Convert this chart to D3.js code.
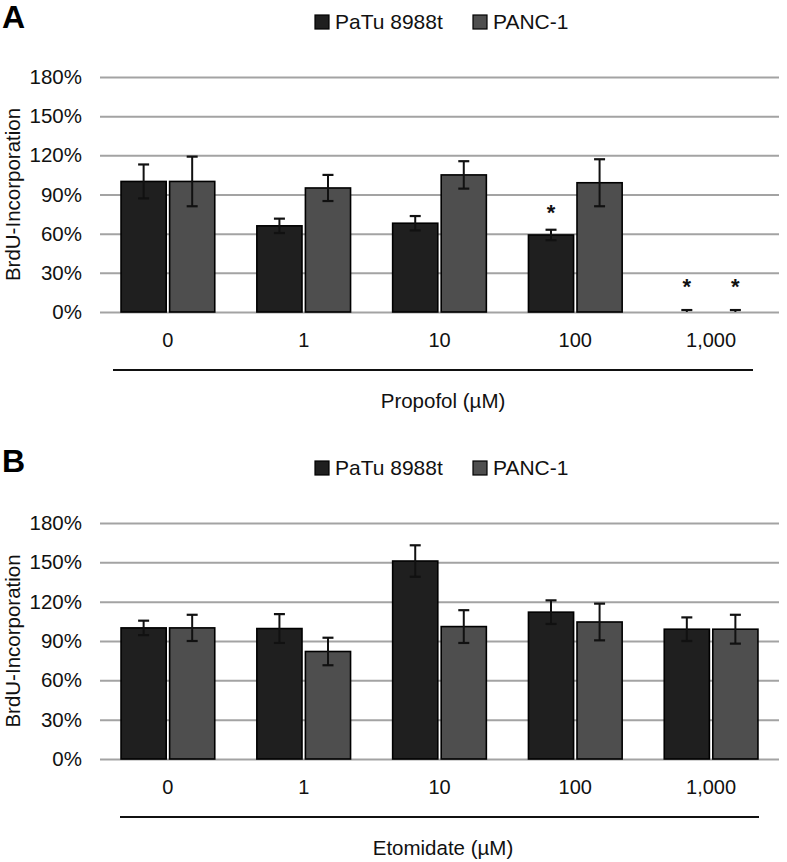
<!DOCTYPE html>
<html>
<head>
<meta charset="utf-8">
<script src="https://cdn.jsdelivr.net/npm/d3@7"></script>
<style>
  html, body { margin: 0; padding: 0; background: #fff; }
  svg { display: block; font-family: "Liberation Sans", Arial, Helvetica, sans-serif; }
</style>
</head>
<body>
<svg id="chart" width="787" height="862"></svg>
<script>
// ---------- data ----------
const categories = ["0", "1", "10", "100", "1,000"];
const seriesNames = ["PaTu 8988t", "PANC-1"];
const yTicks = [0, 30, 60, 90, 120, 150, 180];

// Panel A: Propofol
const propofolPaTu     = [100, 66, 68, 59, 0];
const propofolPaTuErr  = [13, 5.5, 5.5, 4, 1.5];
const propofolPANC     = [100, 95, 105, 99, 0];
const propofolPANCErr  = [19, 10, 10.5, 18, 1.5];
const propofolPaTuStar = [null, null, null, 80, 23];
const propofolPANCStar = [null, null, null, null, 23];

// Panel B: Etomidate
const etomidatePaTu    = [100, 99.5, 151, 112, 99];
const etomidatePaTuErr = [5.5, 11, 12, 9, 9];
const etomidatePANC    = [100, 82, 101, 104.5, 99];
const etomidatePANCErr = [10, 10.5, 12.5, 14, 11];
const etomidatePaTuStar = [null, null, null, null, null];
const etomidatePANCStar = [null, null, null, null, null];

const colors = ["#1f1f1f", "#4e4e4e"];

// ---------- drawing ----------
const svg = d3.select("#chart");

function drawPanel(cfg) {
  const left = 100, right = 779;
  const y = d3.scaleLinear().domain([0, 180]).range([cfg.bottom, cfg.top]);
  const x0 = d3.scaleBand().domain(categories).range([left, right])
    .paddingInner(0.31).paddingOuter(0.155);
  const x1 = d3.scaleBand().domain(seriesNames).range([0, x0.bandwidth()])
    .paddingInner(0.07);

  const g = svg.append("g");

  // panel letter
  g.append("text").attr("x", 2).attr("y", cfg.letterY)
    .attr("font-size", 32).attr("font-weight", "bold").attr("fill", "#000")
    .text(cfg.letter);

  // y axis with gridlines
  const yAxis = d3.axisLeft(y).tickValues(yTicks)
    .tickSize(-(right - left)).tickPadding(18)
    .tickFormat(d => d + "%");
  const ya = g.append("g").attr("transform", `translate(${left},0)`).call(yAxis);
  ya.select(".domain").remove();
  ya.selectAll(".tick line").attr("stroke", "#a3a3a3").attr("stroke-width", 2);
  ya.selectAll(".tick text").attr("font-size", 20.5).attr("fill", "#111")
    .attr("font-family", "Liberation Sans, Arial, sans-serif");

  // y title
  g.append("text")
    .attr("transform", `translate(20,${(cfg.top + cfg.bottom) / 2}) rotate(-90)`)
    .attr("text-anchor", "middle").attr("font-size", 20.5).attr("fill", "#111")
    .text("BrdU-Incorporation");

  // bars
  const rows = categories.map((c, i) => ({
    cat: c,
    vals: [
      { s: seriesNames[0], v: cfg.a[i], e: cfg.ae[i], star: cfg.as[i] },
      { s: seriesNames[1], v: cfg.b[i], e: cfg.be[i], star: cfg.bs[i] }
    ]
  }));

  const groups = g.selectAll(".grp").data(rows).join("g")
    .attr("transform", d => `translate(${x0(d.cat)},0)`);

  groups.selectAll("rect").data(d => d.vals.filter(v => v.v > 0)).join("rect")
    .attr("x", d => x1(d.s))
    .attr("y", d => y(d.v))
    .attr("width", x1.bandwidth())
    .attr("height", d => y(0) - y(d.v))
    .attr("fill", d => colors[seriesNames.indexOf(d.s)])
    .attr("stroke", "#000").attr("stroke-width", 1.6);

  // error bars
  const capW = 11;
  const eb = groups.selectAll(".eb").data(d => d.vals).join("g")
    .attr("transform", d => `translate(${x1(d.s) + x1.bandwidth() / 2},0)`);
  eb.append("line").attr("x1", 0).attr("x2", 0)
    .attr("y1", d => y(Math.max(0, d.v - d.e))).attr("y2", d => y(d.v + d.e))
    .attr("stroke", "#111").attr("stroke-width", 2);
  eb.append("line").attr("x1", -capW / 2).attr("x2", capW / 2)
    .attr("y1", d => y(d.v + d.e)).attr("y2", d => y(d.v + d.e))
    .attr("stroke", "#111").attr("stroke-width", 2.2);
  eb.filter(d => d.v > 0).append("line").attr("x1", -capW / 2).attr("x2", capW / 2)
    .attr("y1", d => y(d.v - d.e)).attr("y2", d => y(d.v - d.e))
    .attr("stroke", "#111").attr("stroke-width", 2.2);

  // significance stars
  eb.filter(d => d.star != null).append("text")
    .attr("x", 0).attr("y", d => y(d.star) + 12)
    .attr("text-anchor", "middle").attr("font-size", 22).attr("font-weight", "bold")
    .attr("fill", "#111").text("*");

  // x tick labels
  const xAxis = d3.axisBottom(x0).tickSize(0).tickPadding(21);
  const xa = g.append("g").attr("transform", `translate(0,${cfg.bottom})`).call(xAxis);
  xa.select(".domain").remove();
  xa.selectAll(".tick text").attr("font-size", 20).attr("fill", "#111")
    .attr("font-family", "Liberation Sans, Arial, sans-serif");

  // bracket line
  g.append("line")
    .attr("x1", cfg.lineX1).attr("x2", cfg.lineX2)
    .attr("y1", cfg.bottom + 58).attr("y2", cfg.bottom + 58)
    .attr("stroke", "#111").attr("stroke-width", 2);

  // x title
  g.append("text").attr("x", 443).attr("y", cfg.bottom + 96)
    .attr("text-anchor", "middle").attr("font-size", 20.5).attr("fill", "#111")
    .text(cfg.xTitle);

  // legend
  const legY = cfg.top - 48;
  const legX = [315, 473];
  seriesNames.forEach((s, i) => {
    g.append("rect").attr("x", legX[i]).attr("y", legY - 14)
      .attr("width", 14).attr("height", 14)
      .attr("fill", colors[i]).attr("stroke", "#000").attr("stroke-width", 1.2);
    g.append("text").attr("x", legX[i] + 20).attr("y", legY)
      .attr("font-size", 21).attr("fill", "#111").text(s);
  });
}

drawPanel({
  letter: "A", letterY: 28, top: 77, bottom: 312,
  a: propofolPaTu, ae: propofolPaTuErr, as: propofolPaTuStar,
  b: propofolPANC, be: propofolPANCErr, bs: propofolPANCStar,
  xTitle: "Propofol (µM)", lineX1: 113, lineX2: 753
});

drawPanel({
  letter: "B", letterY: 472, top: 523, bottom: 759,
  a: etomidatePaTu, ae: etomidatePaTuErr, as: etomidatePaTuStar,
  b: etomidatePANC, be: etomidatePANCErr, bs: etomidatePANCStar,
  xTitle: "Etomidate (µM)", lineX1: 120, lineX2: 759
});
</script>
</body>
</html>
